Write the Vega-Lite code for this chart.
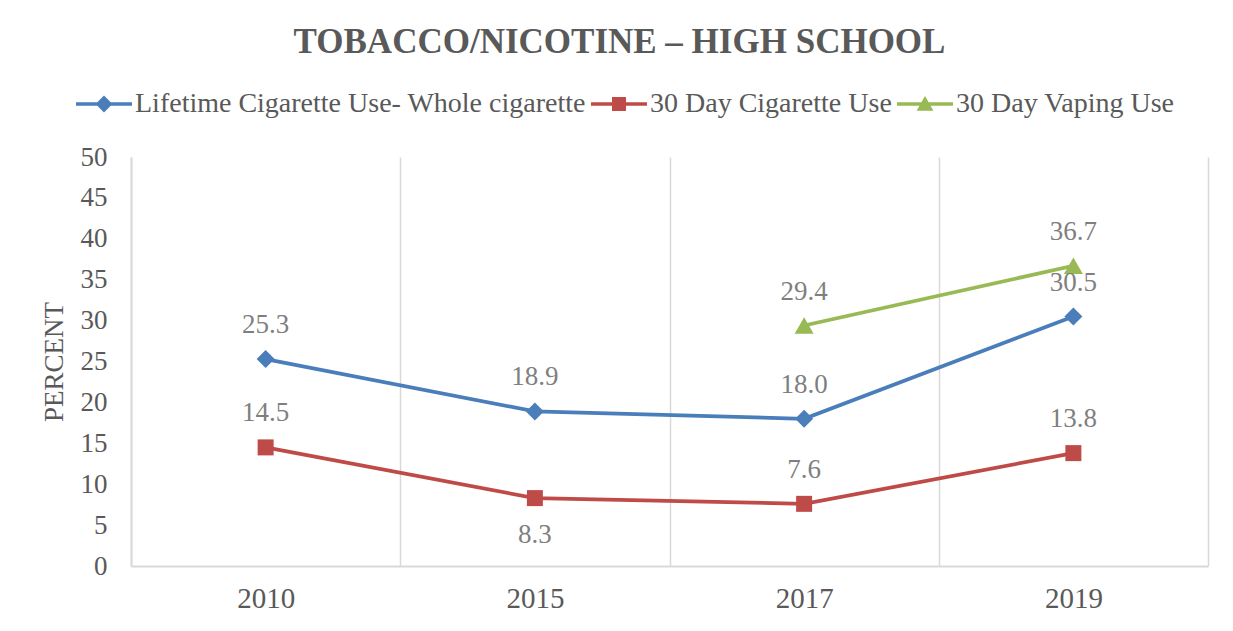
{
  "$schema": "https://vega.github.io/schema/vega-lite/v6.json",
  "width": 1077,
  "height": 409,
  "autosize": "none",
  "padding": {"left": 131, "top": 157, "right": 25, "bottom": 65},
  "background": "white",
  "config": {
    "view": {"stroke": null},
    "font": "Liberation Serif"
  },
  "title": {
    "text": "TOBACCO/NICOTINE – HIGH SCHOOL",
    "font": "Liberation Serif",
    "fontSize": 35,
    "fontWeight": "bold",
    "color": "#595959",
    "anchor": "middle",
    "dx": -50,
    "baseline": "alphabetic",
    "offset": 2
  },
  "data": {
    "values": [
      {"year": "2010", "series": "Lifetime Cigarette Use- Whole cigarette", "value": 25.3},
      {"year": "2015", "series": "Lifetime Cigarette Use- Whole cigarette", "value": 18.9},
      {"year": "2017", "series": "Lifetime Cigarette Use- Whole cigarette", "value": 18.0},
      {"year": "2019", "series": "Lifetime Cigarette Use- Whole cigarette", "value": 30.5},
      {"year": "2010", "series": "30 Day Cigarette Use", "value": 14.5},
      {"year": "2015", "series": "30 Day Cigarette Use", "value": 8.3},
      {"year": "2017", "series": "30 Day Cigarette Use", "value": 7.6},
      {"year": "2019", "series": "30 Day Cigarette Use", "value": 13.8},
      {"year": "2017", "series": "30 Day Vaping Use", "value": 29.4},
      {"year": "2019", "series": "30 Day Vaping Use", "value": 36.7}
    ]
  },
  "encoding": {
    "x": {
      "field": "year",
      "type": "ordinal",
      "bandPosition": 0.5,
      "scale": {"type": "band", "paddingInner": 0, "paddingOuter": 0},
      "axis": {
        "title": null,
        "labelAngle": 0,
        "labelFont": "Liberation Serif",
        "labelFontSize": 29,
        "labelColor": "#595959",
        "labelPadding": 18,
        "ticks": false,
        "domain": true,
        "domainColor": "#d9d9d9",
        "domainWidth": 2,
        "grid": true,
        "gridColor": "#d9d9d9",
        "gridWidth": 1.5,
        "tickBand": "extent"
      }
    },
    "y": {
      "field": "value",
      "type": "quantitative",
      "scale": {"domain": [0, 50], "nice": false},
      "axis": {
        "values": [0, 5, 10, 15, 20, 25, 30, 35, 40, 45, 50],
        "title": "PERCENT",
        "titleFont": "Liberation Serif",
        "titleFontSize": 27,
        "titleFontWeight": "normal",
        "titleColor": "#595959",
        "titlePadding": 12,
        "labelFont": "Liberation Serif",
        "labelFontSize": 27,
        "labelColor": "#595959",
        "labelPadding": 24,
        "ticks": false,
        "grid": false,
        "domain": true,
        "domainColor": "#d9d9d9",
        "domainWidth": 2
      }
    },
    "color": {
      "field": "series",
      "type": "nominal",
      "scale": {
        "domain": ["Lifetime Cigarette Use- Whole cigarette", "30 Day Cigarette Use", "30 Day Vaping Use"],
        "range": ["#4A7EBB", "#BE4B48", "#98B954"]
      },
      "legend": {
        "title": null,
        "orient": "none",
        "legendX": -56,
        "legendY": -67,
        "direction": "horizontal",
        "columns": 3,
        "columnPadding": 4,
        "symbolSize": 196,
        "symbolOffset": 15,
        "labelOffset": 17,
        "labelFont": "Liberation Serif",
        "labelFontSize": 28,
        "labelColor": "#595959",
        "labelLimit": 0,
        "encode": {
          "symbols": {
            "update": {
              "shape": {"signal": "datum.value === 'Lifetime Cigarette Use- Whole cigarette' ? 'M-4,-0.25H4V0.25H-4Z M0,-1.2L1.2,0L0,1.2L-1.2,0Z' : datum.value === '30 Day Cigarette Use' ? 'M-4,-0.25H4V0.25H-4Z M-1,-1H1V1H-1Z' : 'M-4,-0.25H4V0.25H-4Z M0,-1.15L1.2,0.95H-1.2Z'"},
              "fill": {"signal": "datum.value === 'Lifetime Cigarette Use- Whole cigarette' ? '#4A7EBB' : datum.value === '30 Day Cigarette Use' ? '#BE4B48' : '#98B954'"},
              "stroke": {"value": "transparent"},
              "strokeWidth": {"value": 0},
              "opacity": {"value": 1},
              "size": {"value": 196}
            }
          }
        }
      }
    }
  },
  "layer": [
    {
      "mark": {"type": "line", "strokeWidth": 3.75}
    },
    {
      "transform": [{"filter": "datum.series === 'Lifetime Cigarette Use- Whole cigarette'"}],
      "mark": {"type": "point", "filled": true, "opacity": 1, "shape": "diamond", "size": 324}
    },
    {
      "transform": [{"filter": "datum.series === '30 Day Cigarette Use'"}],
      "mark": {"type": "point", "filled": true, "opacity": 1, "shape": "square", "size": 256}
    },
    {
      "transform": [{"filter": "datum.series === '30 Day Vaping Use'"}],
      "mark": {"type": "point", "filled": true, "opacity": 1, "shape": "triangle-up", "size": 361}
    },
    {
      "transform": [{"filter": "!(datum.series === '30 Day Cigarette Use' && datum.year === '2015')"}],
      "mark": {"type": "text", "font": "Liberation Serif", "fontSize": 27, "color": "#7f7f7f", "baseline": "middle", "dy": -34},
      "encoding": {
        "color": {"value": "#7f7f7f"},
        "text": {"field": "value", "type": "quantitative", "format": ".1f"}
      }
    },
    {
      "transform": [{"filter": "datum.series === '30 Day Cigarette Use' && datum.year === '2015'"}],
      "mark": {"type": "text", "font": "Liberation Serif", "fontSize": 27, "color": "#7f7f7f", "baseline": "middle", "dy": 37},
      "encoding": {
        "color": {"value": "#7f7f7f"},
        "text": {"field": "value", "type": "quantitative", "format": ".1f"}
      }
    }
  ]
}
